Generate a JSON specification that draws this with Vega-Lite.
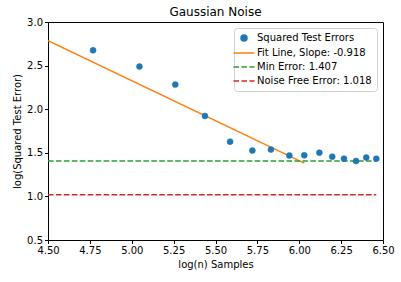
{
  "$schema": "https://vega.github.io/schema/vega-lite/v6.json",
  "width": 335,
  "height": 218,
  "autosize": {"type": "none"},
  "padding": {"left": 48, "top": 22, "right": 18, "bottom": 42},
  "background": "white",
  "title": {"text": "Gaussian Noise", "fontSize": 12, "font": "DejaVu Sans", "fontWeight": "normal", "color": "black", "offset": 5, "dy": 7},
  "datasets": {
    "pts": [
      {"x": 4.769, "y": 2.675, "series": "Squared Test Errors"},
      {"x": 5.046, "y": 2.489, "series": "Squared Test Errors"},
      {"x": 5.260, "y": 2.282, "series": "Squared Test Errors"},
      {"x": 5.437, "y": 1.922, "series": "Squared Test Errors"},
      {"x": 5.587, "y": 1.628, "series": "Squared Test Errors"},
      {"x": 5.720, "y": 1.525, "series": "Squared Test Errors"},
      {"x": 5.831, "y": 1.537, "series": "Squared Test Errors"},
      {"x": 5.941, "y": 1.468, "series": "Squared Test Errors"},
      {"x": 6.030, "y": 1.471, "series": "Squared Test Errors"},
      {"x": 6.120, "y": 1.502, "series": "Squared Test Errors"},
      {"x": 6.197, "y": 1.456, "series": "Squared Test Errors"},
      {"x": 6.267, "y": 1.433, "series": "Squared Test Errors"},
      {"x": 6.339, "y": 1.407, "series": "Squared Test Errors"},
      {"x": 6.400, "y": 1.445, "series": "Squared Test Errors"},
      {"x": 6.460, "y": 1.433, "series": "Squared Test Errors"}
    ],
    "fit": [
      {"x": 4.5, "y": 2.787},
      {"x": 6.03, "y": 1.382}
    ],
    "minerr": [
      {"x": 4.5, "y": 1.407},
      {"x": 6.46, "y": 1.407}
    ],
    "noisefree": [
      {"x": 4.5, "y": 1.018},
      {"x": 6.46, "y": 1.018}
    ]
  },
  "encoding": {
    "x": {"field": "x", "type": "quantitative",
      "scale": {"domain": [4.5, 6.5], "nice": false, "zero": false},
      "axis": {"values": [4.5, 4.75, 5.0, 5.25, 5.5, 5.75, 6.0, 6.25, 6.5], "format": ".2f", "title": "log(n) Samples"}},
    "y": {"field": "y", "type": "quantitative",
      "scale": {"domain": [0.5, 3.0], "nice": false, "zero": false},
      "axis": {"values": [0.5, 1.0, 1.5, 2.0, 2.5, 3.0], "format": ".1f", "title": "log(Squared Test Error)"}}
  },
  "layer": [
    {"data": {"name": "fit"}, "mark": {"type": "line", "color": "#ff7f0e", "strokeWidth": 1.5, "clip": true}},
    {"data": {"name": "minerr"}, "mark": {"type": "line", "color": "#2ca02c", "strokeWidth": 1.5, "strokeDash": [5.55, 2.4]}},
    {"data": {"name": "noisefree"}, "mark": {"type": "line", "color": "#d62728", "strokeWidth": 1.5, "strokeDash": [5.55, 2.4]}},
    {"data": {"name": "pts"},
     "mark": {"type": "point", "filled": true, "opacity": 1, "size": 36, "strokeWidth": 0.5},
     "encoding": {
       "fill": {"field": "series", "type": "nominal",
         "scale": {"domain": ["Squared Test Errors", "Fit Line, Slope: -0.918", "Min Error: 1.407", "Noise Free Error: 1.018"],
                   "range": ["#1f77b4", "#ff7f0e", "#2ca02c", "#d62728"]},
         "legend": {"title": null, "orient": "top-right", "offset": 6}},
       "stroke": {"field": "series", "type": "nominal",
         "scale": {"domain": ["Squared Test Errors", "Fit Line, Slope: -0.918", "Min Error: 1.407", "Noise Free Error: 1.018"],
                   "range": ["#1f77b4", "#ff7f0e", "#2ca02c", "#d62728"]},
         "legend": {"title": null, "orient": "top-right", "offset": 6}},
       "shape": {"field": "series", "type": "nominal",
         "scale": {"domain": ["Squared Test Errors", "Fit Line, Slope: -0.918", "Min Error: 1.407", "Noise Free Error: 1.018"],
                   "range": ["circle", "M-3.5,0H3.5", "M-3.5,0H-1.65M-0.85,0H1.0M1.8,0H3.5", "M-3.5,0H-1.65M-0.85,0H1.0M1.8,0H3.5"]},
         "legend": {"title": null, "orient": "top-right", "offset": 6}}
     }}
  ],
  "config": {
    "font": "DejaVu Sans",
    "view": {"stroke": "black", "strokeWidth": 1},
    "axis": {
      "domain": false,
      "grid": false,
      "ticks": true,
      "tickColor": "black",
      "tickSize": 3.5,
      "tickWidth": 1,
      "labelFont": "DejaVu Sans",
      "labelFontSize": 10,
      "labelColor": "black",
      "labelPadding": 2,
      "titleFont": "DejaVu Sans",
      "titleFontSize": 10,
      "titleFontWeight": "normal",
      "titleColor": "black",
      "titlePadding": 4
    },
    "axisY": {"labelFlush": false},
    "axisX": {"labelFlush": false},
    "legend": {
      "labelFont": "DejaVu Sans",
      "labelFontSize": 10,
      "labelColor": "black",
      "symbolSize": 36,
      "symbolStrokeWidth": 1.5,
      "symbolOpacity": 1,
      "labelOffset": 8,
      "rowPadding": 4,
      "padding": 5,
      "strokeColor": "#d0d0d0",
      "fillColor": "white",
      "cornerRadius": 3,
      "labelLimit": 300
    }
  }
}
